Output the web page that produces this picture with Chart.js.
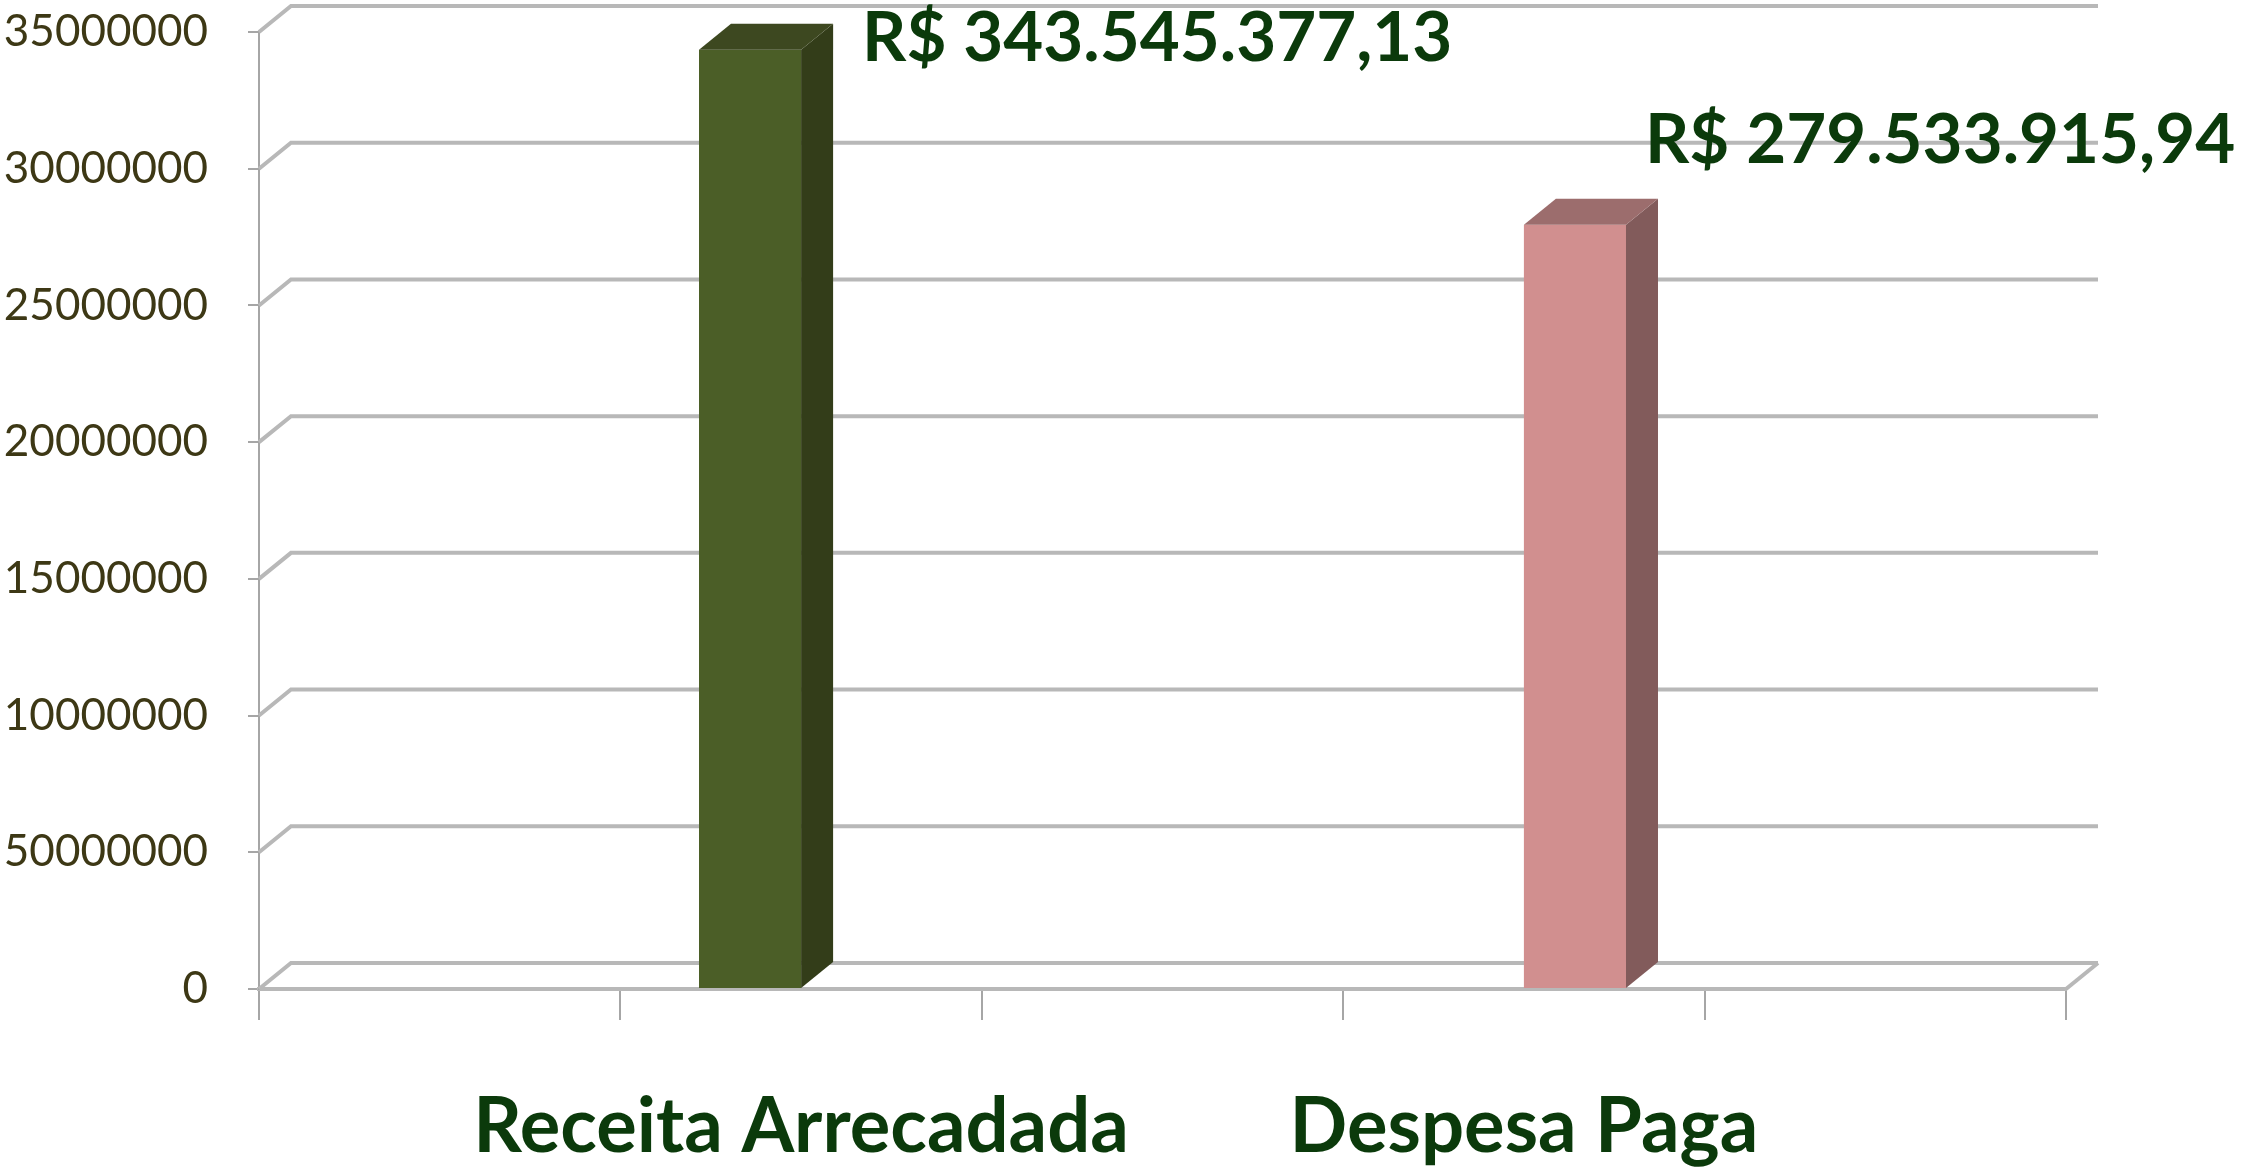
<!DOCTYPE html>
<html>
<head>
<meta charset="utf-8">
<script src="https://cdn.jsdelivr.net/npm/chart.js@4"></script>
<style>
  body { margin: 0; background: #ffffff; }
  #chart { display: block; }
</style>
</head>
<body>
<canvas id="chart" width="2247" height="1167" style="width:2247px;height:1167px"></canvas>
<script>
    // data
    var categories = ['', 'Receita Arrecadada', '', 'Despesa Paga', ''];
    var receita = [null, 34354537.713, null, null, null];
    var despesa = [null, null, null, 27953391.594, null];
    var valueLabels = ['R$ 343.545.377,13', 'R$ 279.533.915,94'];
    var yTickLabels = ['0', '50000000', '10000000', '15000000', '20000000', '25000000', '30000000', '35000000'];

    // look
    var frontColors = ['#4b5e27', '#d18f8f'];
    var sideColors = ['#333d19', '#825b5b'];
    var topColors = ['#3d4820', '#9c6d6d'];
    var dx = 32, dy = -26;
    var labelShift = [[61, -11], [19, -84]];

    Chart.defaults.font.family = 'Lato, "Open Sans", sans-serif';

    // 3d walls, bar sides and value labels
    var fake3d = {
        id: 'fake3d',
        beforeDatasetsDraw: function (chart) {
            var ctx = chart.ctx, a = chart.chartArea, y = chart.scales.y;
            ctx.save();
            ctx.strokeStyle = '#b8b8b8';
            ctx.lineWidth = 4;
            y.ticks.forEach(function (t) {
                var py = y.getPixelForValue(t.value);
                ctx.beginPath();
                ctx.moveTo(a.left, py);
                ctx.lineTo(a.left + dx, py + dy);
                ctx.lineTo(a.right + dx, py + dy);
                ctx.stroke();
            });
            ctx.beginPath();
            ctx.moveTo(a.right, a.bottom);
            ctx.lineTo(a.right + dx, a.bottom + dy);
            ctx.stroke();
            ctx.restore();
        },
        afterDatasetsDraw: function (chart) {
            var ctx = chart.ctx;
            ctx.save();
            chart.data.datasets.forEach(function (ds, i) {
                var meta = chart.getDatasetMeta(i);
                meta.data.forEach(function (bar, j) {
                    if (ds.data[j] == null) return;
                    var p = bar.getProps(['x', 'y', 'width', 'base'], true);
                    var l = p.x - p.width / 2, r = p.x + p.width / 2;
                    ctx.fillStyle = sideColors[i];
                    ctx.beginPath();
                    ctx.moveTo(r, p.y);
                    ctx.lineTo(r + dx, p.y + dy);
                    ctx.lineTo(r + dx, p.base + dy);
                    ctx.lineTo(r, p.base);
                    ctx.closePath();
                    ctx.fill();
                    ctx.fillStyle = topColors[i];
                    ctx.beginPath();
                    ctx.moveTo(l, p.y);
                    ctx.lineTo(l + dx, p.y + dy);
                    ctx.lineTo(r + dx, p.y + dy);
                    ctx.lineTo(r, p.y);
                    ctx.closePath();
                    ctx.fill();
                    ctx.fillStyle = '#0b3a0b';
                    ctx.font = 'bold 69px Lato, "Open Sans", sans-serif';
                    ctx.textAlign = 'left';
                    ctx.textBaseline = 'middle';
                    ctx.fillText(valueLabels[i], r + labelShift[i][0], p.y + labelShift[i][1]);
                });
            });
            ctx.restore();
        }
    };

    var ctxB = document.getElementById('chart').getContext('2d');
    var myBarChart = new Chart(ctxB, {
        type: 'bar',
        data: {
            labels: categories,
            datasets: [{
                label: 'Receita Arrecadada',
                data: receita,
                backgroundColor: frontColors[0]
            }, {
                label: 'Despesa Paga',
                data: despesa,
                backgroundColor: frontColors[1]
            }]
        },
        options: {
            responsive: false,
            animation: false,
            layout: { padding: { top: 32, right: 181, left: 0, bottom: 0 } },
            datasets: { bar: { barPercentage: 1, categoryPercentage: 0.565 } },
            plugins: { legend: { display: false }, tooltip: { enabled: false } },
            scales: {
                x: {
                    afterFit: function (s) { s.height = 178; s.paddingLeft = 0; s.paddingRight = 0; },
                    grid: { drawOnChartArea: false, tickLength: 31, color: '#a6a6a6', lineWidth: 2 },
                    border: { color: '#b8b8b8', width: 4 },
                    ticks: { padding: 62, color: '#0b3a0b', maxRotation: 0, minRotation: 0, autoSkip: false, font: { size: 76, weight: 'bold' } }
                },
                y: {
                    min: 0,
                    max: 35000000,
                    afterFit: function (s) { s.width = 259; s.paddingTop = 0; s.paddingBottom = 0; },
                    grid: { drawOnChartArea: false, tickLength: 11, color: '#a6a6a6', lineWidth: 2 },
                    border: { color: '#a6a6a6', width: 2 },
                    ticks: {
                        stepSize: 5000000,
                        padding: 40,
                        color: '#3d3815',
                        font: { size: 44 },
                        callback: function (v, i) { return yTickLabels[i]; }
                    }
                }
            }
        },
        plugins: [fake3d]
    });
</script>
</body>
</html>
